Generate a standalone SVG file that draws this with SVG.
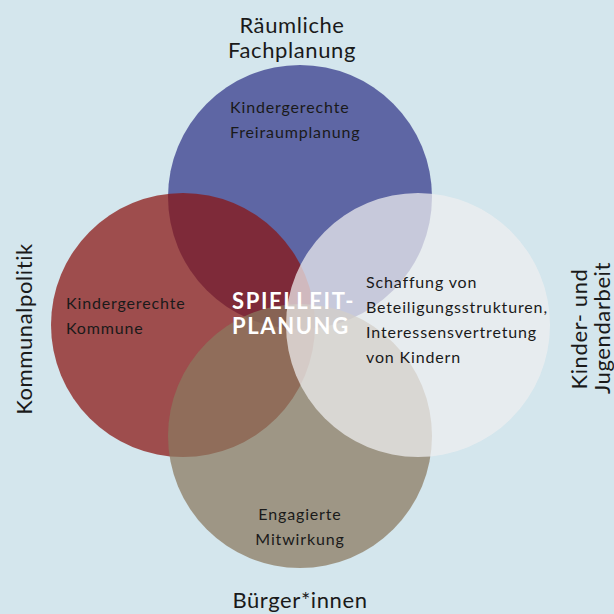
<svg xmlns="http://www.w3.org/2000/svg" width="614" height="614" viewBox="0 0 614 614">
  <style>
    .circle { opacity: 0.73; }
    .label { font-family: Lato, "Open Sans", "Liberation Sans", sans-serif; fill: #1a1a1a; }
    .outer { font-size: 22px; letter-spacing: 0.6px; }
    .inner { font-size: 16px; letter-spacing: 0.85px; }
    .core { font-family: Lato, "Open Sans", "Liberation Sans", sans-serif; font-weight: bold; font-size: 22px; letter-spacing: 1.6px; fill: #ffffff; }
  </style>
  <rect x="0" y="0" width="614" height="614" fill="#d4e6ed"/>

  <!-- four overlapping fields, painted back to front -->
  <g id="raeumliche-fachplanung">
    <circle class="circle" cx="300" cy="197" r="132" fill="#333789"/>
    <text class="label inner" x="230" y="113">Kindergerechte</text>
    <text class="label inner" x="230" y="138">Freiraumplanung</text>
  </g>
  <g id="kommunalpolitik">
    <circle class="circle" cx="183" cy="325" r="132" fill="#8a1412"/>
    <text class="label inner" x="66" y="309">Kindergerechte</text>
    <text class="label inner" x="66" y="334">Kommune</text>
  </g>
  <g id="buergerinnen">
    <circle class="circle" cx="300" cy="436" r="132" fill="#8a795f"/>
    <text class="label inner" x="300" y="520" text-anchor="middle">Engagierte</text>
    <text class="label inner" x="300" y="545" text-anchor="middle">Mitwirkung</text>
  </g>
  <g id="kinder-jugendarbeit">
    <circle class="circle" cx="418" cy="325" r="132" fill="#efeef0"/>
    <text class="label inner" x="366" y="288">Schaffung von</text>
    <text class="label inner" x="366" y="313">Beteiligungsstrukturen,</text>
    <text class="label inner" x="366" y="338">Interessensvertretung</text>
    <text class="label inner" x="366" y="363">von Kindern</text>
  </g>

  <!-- centre label -->
  <g id="spielleitplanung">
    <text class="core" x="232" y="309">SPIELLEIT-</text>
    <text class="core" x="232" y="334">PLANUNG</text>
  </g>

  <!-- field titles around the circles -->
  <g id="titles">
    <text class="label outer" x="292" y="33" text-anchor="middle">Räumliche</text>
    <text class="label outer" x="292" y="58" text-anchor="middle">Fachplanung</text>
    <text class="label outer" x="300" y="608" text-anchor="middle">Bürger*innen</text>
    <text class="label outer" text-anchor="middle" transform="translate(32,329) rotate(-90)">Kommunalpolitik</text>
    <text class="label outer" text-anchor="middle" transform="translate(587,329) rotate(-90)">Kinder- und</text>
    <text class="label outer" text-anchor="middle" transform="translate(610,328) rotate(-90)">Jugendarbeit</text>
  </g>
</svg>
